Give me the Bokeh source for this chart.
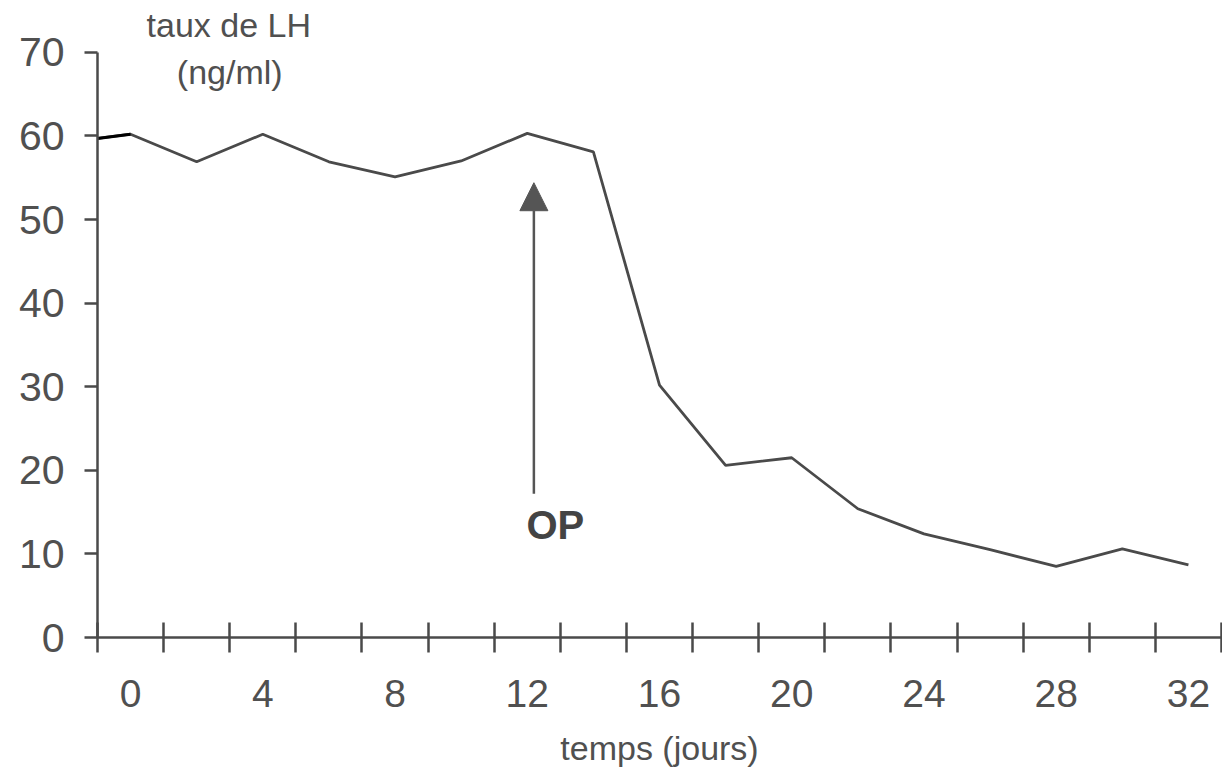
from bokeh.plotting import figure
from bokeh.models import FixedTicker, Arrow, NormalHead, Range1d, ColumnDataSource
from bokeh.core.properties import value
from bokeh.embed import file_html
from bokeh.resources import INLINE

# ---- data ----
days = [-1, 0, 2, 4, 6, 8, 10, 12, 14, 16, 18, 20, 22, 24, 26, 28, 30, 32]
lh = [59.7, 60.2, 56.9, 60.2, 56.9, 55.1, 57.0, 60.3, 58.1, 30.2, 20.6, 21.5,
      15.4, 12.4, 10.5, 8.5, 10.6, 8.7]

x_labels = [0, 4, 8, 12, 16, 20, 24, 28, 32]
x_tick_marks = [-1, 1, 3, 5, 7, 9, 11, 13, 15, 17, 19, 21, 23, 25, 27, 29, 31, 33]
y_ticks = [0, 10, 20, 30, 40, 50, 60, 70]

y_title_lines = ["taux de LH", "(ng/ml)"]
x_title = "temps (jours)"
arrow_label = "OP"
arrow_day = 12.2
arrow_from = 17.2
arrow_to = 54.4

FONT = "Liberation Sans"
INK = "#4a4a4a"
TXT = "#505050"

p = figure(width=1222, height=770,
           x_range=Range1d(-1, 33), y_range=Range1d(0, 75),
           output_backend="svg", toolbar_location=None,
           min_border_left=97, min_border_right=1,
           min_border_top=10, min_border_bottom=133)
p.xgrid.visible = False
p.ygrid.visible = False
p.outline_line_color = None
p.background_fill_color = "white"

# y axis
ya = p.yaxis[0]
ya.ticker = FixedTicker(ticks=y_ticks)
ya.bounds = (0, 70)
ya.axis_line_color = INK
ya.axis_line_width = 2.5
ya.major_tick_line_color = INK
ya.major_tick_line_width = 2.5
ya.major_tick_in = 0
ya.major_tick_out = 13
ya.minor_tick_line_color = None
ya.major_label_text_font = FONT
ya.major_label_text_font_size = "41px"
ya.major_label_text_color = TXT
ya.major_label_standoff = 20

# x axis
xa = p.xaxis[0]
xa.ticker = FixedTicker(ticks=x_labels, minor_ticks=x_tick_marks)
xa.bounds = (-1, 33)
xa.axis_line_color = INK
xa.axis_line_width = 2.5
xa.major_tick_in = 0
xa.major_tick_out = 0
xa.major_tick_line_color = None
xa.minor_tick_line_color = INK
xa.minor_tick_line_width = 2.5
xa.minor_tick_in = 15
xa.minor_tick_out = 15
xa.major_label_text_font = FONT
xa.major_label_text_font_size = "39px"
xa.major_label_text_color = TXT
xa.major_label_standoff = 27
xa.axis_label = x_title
xa.axis_label_text_font = FONT
xa.axis_label_text_font_size = "34px"
xa.axis_label_text_font_style = "normal"
xa.axis_label_text_color = TXT
xa.axis_label_standoff = 19

src = ColumnDataSource(dict(x=days, y=lh))
p.line("x", "y", source=src, line_color=INK, line_width=2.8)
p.line(days[:2], lh[:2], line_color="black", line_width=3)

# y-axis title at top
p.text(x=[2.97, 3.0], y=[73.3, 67.6], text=y_title_lines,
       text_align="center", text_baseline="middle",
       text_font=value(FONT), text_font_size="34px", text_color=TXT)

# OP arrow
p.add_layout(Arrow(end=NormalHead(size=28, fill_color="#555555", line_color="#555555"),
                   x_start=arrow_day, y_start=arrow_from,
                   x_end=arrow_day, y_end=arrow_to,
                   line_color="#555555", line_width=2.5))
p.text(x=[12.85], y=[13.4], text=[arrow_label],
       text_align="center", text_baseline="middle",
       text_font=value(FONT), text_font_size="40px", text_font_style="bold",
       text_color="#444444")

open("out.html", "w").write(file_html(p, INLINE))
